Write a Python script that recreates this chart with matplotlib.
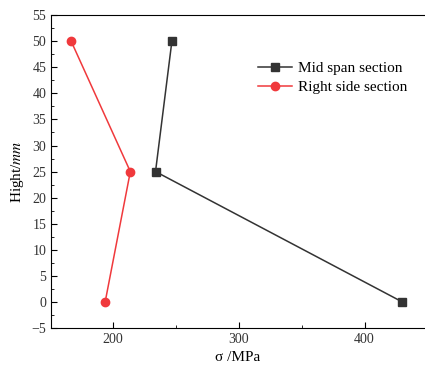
import matplotlib
matplotlib.use('Agg')
import matplotlib.pyplot as plt
from matplotlib.ticker import MultipleLocator

# data
height = [50, 25, 0]
mid_span = [247, 234, 430]
right_side = [167, 214, 194]

plt.rcParams['font.family'] = ['Liberation Serif', 'DejaVu Serif']
plt.rcParams['mathtext.fontset'] = 'stix'

fig = plt.figure(figsize=(4.25, 3.69), dpi=100)
ax = fig.add_axes([0.12, 0.111, 0.88, 0.848])

ax.plot(mid_span, height, color='#333333', lw=1.1, marker='s', markersize=5.5,
        label='Mid span section')
ax.plot(right_side, height, color='#f0393c', lw=1.1, marker='o', markersize=6,
        label='Right side section')

ax.set_xlim(151, 448)
ax.set_ylim(-5, 55)
ax.set_xticks([200, 300, 400])
ax.xaxis.set_minor_locator(MultipleLocator(50))
ax.yaxis.set_major_locator(MultipleLocator(5))
ax.yaxis.set_minor_locator(MultipleLocator(2.5))
ax.tick_params(which='both', direction='in', labelsize=10, labelcolor='#333333')
ax.tick_params(which='major', length=4)
ax.tick_params(which='minor', length=2)
ax.tick_params(axis='y', which='both', right=False)
ax.spines['right'].set_visible(False)

ax.set_xlabel('σ /MPa', fontsize=11)
ax.set_ylabel('Hight/$mm$', fontsize=11)

ax.legend(loc='upper right', bbox_to_anchor=(0.99, 0.895), frameon=False,
          fontsize=11, handlelength=2.2, labelspacing=0.35, handletextpad=0.4)

fig.savefig('out.png', dpi=100)
